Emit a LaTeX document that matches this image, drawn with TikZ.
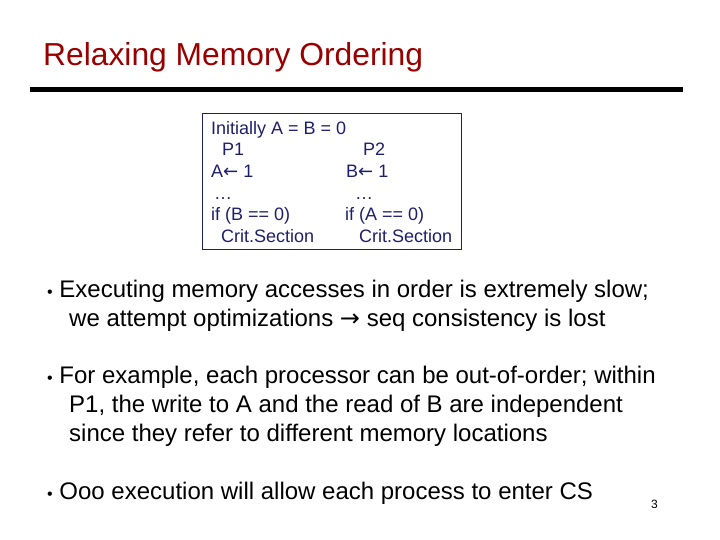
\documentclass[tikz,border=0pt]{standalone}
\usepackage{fontspec}
\setmainfont{Liberation Sans}
\newfontfamily\arrfont{DejaVu Sans}
\definecolor{titlered}{RGB}{153,0,0}
\definecolor{navy}{RGB}{30,30,110}
\begin{document}
\begin{tikzpicture}[x=1pt,y=-1pt,
  bx/.style={anchor=base west,inner sep=0,text=navy,font=\fontsize{18}{20}\selectfont},
  bt/.style={anchor=base west,inner sep=0,font=\fontsize{24}{28}\selectfont}]
\useasboundingbox (0,0) rectangle (720,540);
\node[anchor=base west,inner sep=0,text=titlered,font=\fontsize{31.8}{36}\selectfont] (title) at (43,66) {Relaxing Memory Ordering};
\draw[line width=5pt] (30,90) coordinate (r1) -- (683,90) coordinate (r2);
\draw[navy,line width=1pt] (202,114) rectangle (461,249);
\node[bx] (i) at (211,135) {Initially A = B = 0};
\node[bx] (p1) at (222,156) {P1};
\node[bx] (p2) at (363,156) {P2};
\node[bx] (a) at (211,178) {A{\arrfont ←} 1};
\node[bx] (b) at (346,178) {B{\arrfont ←} 1};
\node[bx] (d1) at (214,200) {…};
\node[bx] (d2) at (355,200) {…};
\node[bx] (if1) at (211,221) {if (B == 0)};
\node[bx] (if2) at (345,221) {if (A == 0)};
\node[bx] (c1) at (221,243) {Crit.Section};
\node[bx] (c2) at (359,243) {Crit.Section};
\node[bt] (l1) at (47,297) {{\fontsize{16}{18}\selectfont•} Executing memory accesses in order is extremely slow;};
\node[bt] (l2) at (69,326) {we attempt optimizations {\arrfont →} seq consistency is lost};
\node[bt] (l3) at (47,383) {{\fontsize{16}{18}\selectfont•} For example, each processor can be out-of-order; within};
\node[bt] (l4) at (69,412) {P1, the write to A and the read of B are independent};
\node[bt] (l5) at (69,441) {since they refer to different memory locations};
\node[bt] (l6) at (47,499) {{\fontsize{16}{18}\selectfont•} Ooo execution will allow each process to enter CS};
\node[anchor=base west,inner sep=0,font=\fontsize{12}{14}\selectfont] (n) at (651,508) {3};
\end{tikzpicture}
\end{document}
